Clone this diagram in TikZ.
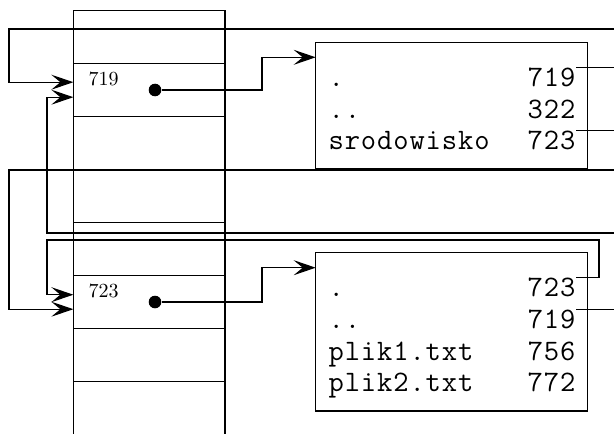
\documentclass[tikz,border=0pt]{standalone}
\usepackage{fontspec}
\usetikzlibrary{arrows.meta,calc}
\newfontfamily\dirtt[LetterSpace=3]{Latin Modern Mono}
\begin{document}
\begin{tikzpicture}[x=0.5pt,y=-0.5pt,
  line width=0.6pt,
  cell/.style={draw,rectangle,minimum width=75.85pt,minimum height=26.5pt,inner sep=0pt,outer sep=0pt},
  dirbox/.style={draw,rectangle,anchor=north west,minimum width=135.8pt,inner sep=0pt,outer sep=0pt},
  entry/.style={inner sep=0pt,anchor=base west,font=\fontsize{14.85}{18}\selectfont\dirtt},
  inum/.style={inner sep=0pt,anchor=base east,font=\fontsize{14.85}{18}\selectfont\dirtt},
  lbl/.style={inner sep=0pt,anchor=west,font=\fontsize{10}{12}\selectfont},
  dot/.style={circle,fill,inner sep=0pt,minimum size=6.3pt},
  conn/.style={-{Stealth[length=11pt,width=7.5pt,inset=4.5pt]}}]
\useasboundingbox (0,0) rectangle (614,433);
\clip (0,0) rectangle (614,433);

% inode table column
\foreach \i in {0,...,7} \node[cell] (c\i) at (149.2,37.2+53*\i) {};

\coordinate (a1) at ($(c1.west)+(0,-8)$);
\coordinate (b1) at ($(c1.west)+(0,7)$);
\coordinate (a5) at ($(c5.west)+(0,-7.5)$);
\coordinate (b5) at ($(c5.west)+(0,7)$);

\node[lbl] (l1) at (88,79) {719};
\node[lbl] (l5) at (88,291) {723};
\node[dot] (d1) at (155,90) {};
\node[dot] (d5) at (155,302) {};

% directory blocks
\node[dirbox,minimum height=63pt] (B1) at (315.7,42.3) {};
\node[dirbox,minimum height=79.15pt] (B2) at (315.7,252.7) {};

\node[entry] (e11) at (328,86.3) {.};
\node[entry] (e12) at (328,118) {..};
\node[entry] (e13) at (328,149.7) {srodowisko};
\node[inum] (n11) at (576,86.3) {719};
\node[inum] (n12) at (576,118) {322};
\node[inum] (n13) at (576,149.7) {723};

\node[entry] (e21) at (328,296.7) {.};
\node[entry] (e22) at (328,328.4) {..};
\node[entry] (e23) at (328,360.1) {plik1.txt};
\node[entry] (e24) at (328,391.8) {plik2.txt};
\node[inum] (n21) at (576,296.7) {723};
\node[inum] (n22) at (576,328.4) {719};
\node[inum] (n23) at (576,360.1) {756};
\node[inum] (n24) at (576,391.8) {772};

% routing guides
\coordinate (Rx) at (625,0);
\coordinate (Rin) at (599,0);
\coordinate (Lo) at (9,0);
\coordinate (Li) at (47,0);
\coordinate (Mx) at (262,0);
\coordinate (y29) at (0,29);
\coordinate (y170) at (0,170);
\coordinate (y233) at (0,233);
\coordinate (y240) at (0,240);

% connectors
\draw[conn] (n11.north east) -- (n11.north east -| Rx) |- (Lo |- y29) |- (a1);
\draw[conn] (n13.north east) -- (n13.north east -| Rx) |- (Lo |- y170) |- (b5);
\draw[conn] (n22.north east) -- (n22.north east -| Rx) |- (Li |- y233) |- (b1);
\draw[conn] (n21.north east) -- (n21.north east -| Rin) |- (Li |- y240) |- (a5);
\draw[conn] (d1.east) -- (d1.east -| Mx) |- ($(B1.north west)+(0,15)$);
\draw[conn] (d5.east) -- (d5.east -| Mx) |- ($(B2.north west)+(0,15)$);
\end{tikzpicture}
\end{document}
